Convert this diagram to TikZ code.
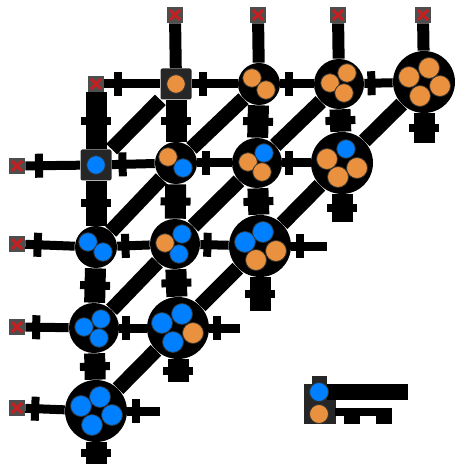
\documentclass[tikz,border=0pt]{standalone}
\usetikzlibrary{arrows.meta,positioning,shapes.geometric,decorations.markings}
\newlength\pxu
\setlength\pxu{0.02cm}
\definecolor{pblue}{RGB}{0,128,255}
\definecolor{porange}{RGB}{233,145,62}
\definecolor{xred}{RGB}{196,32,34}
\definecolor{xgray}{RGB}{78,78,78}
\definecolor{halo}{RGB}{38,38,38}

\begin{document}
\begin{tikzpicture}[
  x=0.02cm, y=-0.02cm,
  xbox/.style={fill=xgray, minimum size=16\pxu, inner sep=0pt,
               path picture={\draw[xred, line width=3\pxu]
                 ([shift={(-5\pxu,-5\pxu)}]path picture bounding box.center) -- ++(10\pxu,10\pxu)
                 ([shift={(-5\pxu,5\pxu)}]path picture bounding box.center) -- ++(10\pxu,-10\pxu);}},
  lone/.style={fill=halo, rounded corners=2\pxu, minimum size=31\pxu, inner sep=0pt},
  duo/.style={circle, fill=black, minimum size=42\pxu, inner sep=0pt},
  trio/.style={circle, fill=black, minimum size=50\pxu, inner sep=0pt},
  quad/.style={circle, fill=black, minimum size=62\pxu, inner sep=0pt},
  bar/.style={postaction={decorate},
              decoration={markings, mark=at position #1 with {\fill (-4\pxu,-12\pxu) rectangle (4\pxu,12\pxu);}}},
  hedge/.style={draw=black, line width=9\pxu, bar=0.25},
  vedge/.style={draw=black, line width=21\pxu,
                postaction={decorate},
                decoration={markings, mark=at position 0.5 with {\fill (-4\pxu,-15\pxu) rectangle (4\pxu,15\pxu);}}},
  xvedge/.style={draw=black, line width=12\pxu},
  dedge/.style={draw=black, line width=15\pxu},
  bpart/.style={fill=pblue, draw=black!80, line width=0.8\pxu},
  opart/.style={fill=porange, draw=black!80, line width=0.8\pxu}
]
\useasboundingbox (0,0) rectangle (457,469);

% empty places
\node[xbox] (x00) at (96,84) {};
\node[xbox] (xt1) at (175,15) {};
\node[xbox] (xt2) at (258,15) {};
\node[xbox] (xt3) at (338,15) {};
\node[xbox] (xt4) at (423,15) {};
\node[xbox] (xl1) at (17,166) {};
\node[xbox] (xl2) at (17,244) {};
\node[xbox] (xl3) at (17,327) {};
\node[xbox] (xl4) at (17,408) {};

% states: blue count, orange count
\node[lone] (n01) at (176,84) {};
\node[duo]  (n02) at (259,84) {};
\node[trio] (n03) at (339,84) {};
\node[quad] (n04) at (424,82) {};
\node[lone] (n10) at (96,165) {};
\node[duo]  (n11) at (176,163) {};
\node[trio] (n12) at (257,163) {};
\node[quad] (n13) at (342,163) {};
\node[duo]  (n20) at (96,247) {};
\node[trio] (n21) at (175,244) {};
\node[quad] (n22) at (260,246) {};
\node[trio] (n30) at (94,328) {};
\node[quad] (n31) at (178,328) {};
\node[quad] (n40) at (96,411) {};

\coordinate (s04d) at (424,143);
\coordinate (s13d) at (342,222);
\coordinate (s22d) at (260,311);
\coordinate (s31d) at (178,382);
\coordinate (s40d) at (96,464);
\coordinate (s22r) at (327,246);
\coordinate (s31r) at (240,328);
\coordinate (s40r) at (160,411);

\draw[hedge] (x00) -- (n01);
\draw[hedge] (n01) -- (n02);
\draw[hedge] (n02) -- (n03);
\draw[hedge] (n03) -- (n04);
\draw[hedge] (xl1) -- (n10);
\draw[hedge] (n10) -- (n11);
\draw[hedge] (n11) -- (n12);
\draw[hedge] (n12) -- (n13);
\draw[hedge] (xl2) -- (n20);
\draw[hedge] (n20) -- (n21);
\draw[hedge] (n21) -- (n22);
\draw[hedge] (n22) -- (s22r);
\draw[hedge] (xl3) -- (n30);
\draw[hedge] (n30) -- (n31);
\draw[hedge] (n31) -- (s31r);
\draw[hedge] (xl4) -- (n40);
\draw[hedge] (n40) -- (s40r);

\draw[xvedge] (xt1) -- (n01);
\draw[xvedge] (xt2) -- (n02);
\draw[xvedge] (xt3) -- (n03);
\draw[xvedge] (xt4) -- (n04);
\draw[vedge] (x00) -- (n10);
\draw[vedge] (n10) -- (n20);
\draw[vedge] (n20) -- (n30);
\draw[vedge] (n30) -- (n40);
\draw[vedge] (n40) -- (s40d);
\draw[vedge] (n01) -- (n11);
\draw[vedge] (n11) -- (n21);
\draw[vedge] (n21) -- (n31);
\draw[vedge] (n31) -- (s31d);
\draw[vedge] (n02) -- (n12);
\draw[vedge] (n12) -- (n22);
\draw[vedge] (n22) -- (s22d);
\draw[vedge] (n03) -- (n13);
\draw[vedge] (n13) -- (s13d);
\draw[vedge] (n04) -- (s04d);

\draw[dedge] (n10) -- (n01);
\draw[dedge] (n11) -- (n02);
\draw[dedge] (n12) -- (n03);
\draw[dedge] (n13) -- (n04);
\draw[dedge] (n20) -- (n11);
\draw[dedge] (n21) -- (n12);
\draw[dedge] (n22) -- (n13);
\draw[dedge] (n30) -- (n21);
\draw[dedge] (n31) -- (n22);
\draw[dedge] (n40) -- (n31);

% particles
\foreach \x/\y in {96/165, 183/168, 264/153, 346/149,
                   88/242, 103/252, 182/234, 179/254, 84/327, 101/319, 99/338}
  \draw[bpart] (\x,\y) circle[radius=9.3\pxu];
\foreach \x/\y in {176/84, 252/78, 266/90, 330/83, 347/73, 344/93,
                   168/157, 248/162, 262/172, 165/243}
  \draw[opart] (\x,\y) circle[radius=9.3\pxu];
\foreach \x/\y in {245/242, 263/232, 162/323, 182/314, 173/342,
                   81/406, 100/397, 112/415, 92/425}
  \draw[bpart] (\x,\y) circle[radius=10.5\pxu];
\foreach \x/\y in {409/77, 429/68, 440/86, 420/96,
                   327/159, 357/168, 338/177, 276/251, 256/260, 193/333}
  \draw[opart] (\x,\y) circle[radius=10.5\pxu];

% legend
\fill[halo] (312,376) rectangle (327,384);
\fill[halo] (304,384) rectangle (336,424);
\fill (327,384) rectangle (408,400);
\fill (335,408) rectangle (392,416);
\fill (344,416) rectangle (360,424);
\fill (376,416) rectangle (392,424);
\draw[bpart] (319,392) circle[radius=9.5\pxu];
\draw[opart] (319,414) circle[radius=9.5\pxu];
\end{tikzpicture}
\end{document}
